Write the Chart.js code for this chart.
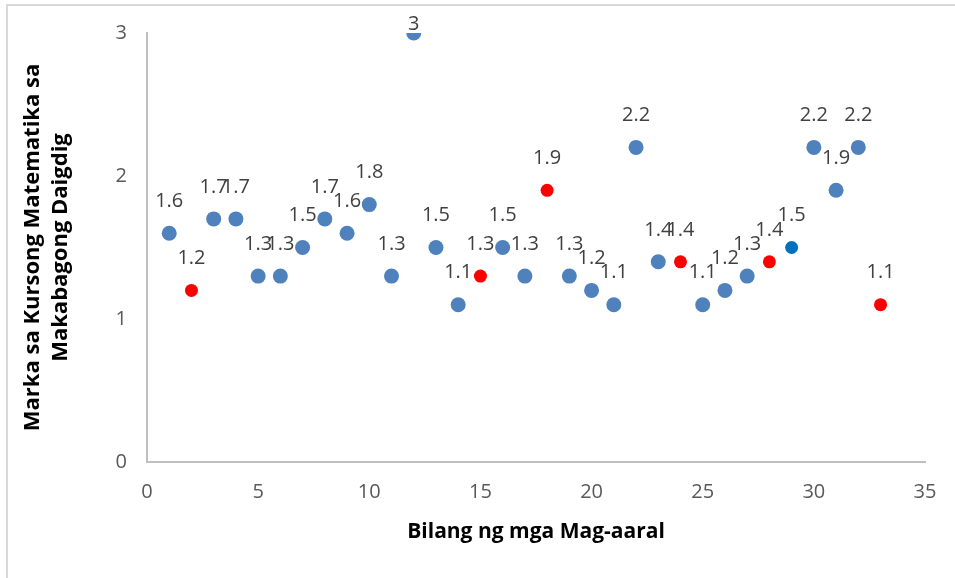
<!DOCTYPE html>
<html>
<head>
<meta charset="utf-8">
<script src="https://cdn.jsdelivr.net/npm/chart.js@4"></script>
<style>
  html, body { margin: 0; padding: 0; background: #fff; }
  #wrap { width: 955px; height: 578px; position: relative; }
</style>
</head>
<body>
<div id="wrap"><canvas id="myChart" width="955" height="578"></canvas></div>
<script>
// student number vs. grade
const students = [1, 2, 3, 4, 5, 6, 7, 8, 9, 10, 11, 12, 13, 14, 15, 16, 17,
  18, 19, 20, 21, 22, 23, 24, 25, 26, 27, 28, 29, 30, 31, 32, 33];
const grades = [1.6, 1.2, 1.7, 1.7, 1.3, 1.3, 1.5, 1.7, 1.6, 1.8, 1.3, 3, 1.5, 1.1, 1.3, 1.5, 1.3,
  1.9, 1.3, 1.2, 1.1, 2.2, 1.4, 1.4, 1.1, 1.2, 1.3, 1.4, 1.5, 2.2, 1.9, 2.2, 1.1];
// which points are highlighted: 'r' red, 'd' dark blue, 'b' normal
const marks = ['b', 'r', 'b', 'b', 'b', 'b', 'b', 'b', 'b', 'b', 'b', 'b', 'b', 'b', 'r', 'b', 'b',
  'r', 'b', 'b', 'b', 'b', 'b', 'r', 'b', 'b', 'b', 'r', 'd', 'b', 'b', 'b', 'r'];
const xTicks = [0, 5, 10, 15, 20, 25, 30, 35];
const yTicks = [0, 1, 2, 3];

const markColor = { b: '#4f81bd', r: '#ff0000', d: '#0070c0' };
const markSize = { b: 7.5, r: 6.5, d: 6.5 };

const points = students.map((s, i) => ({ x: s, y: grades[i] }));

const frame = {
  id: 'frame',
  beforeDraw(chart) {
    const ctx = chart.ctx;
    ctx.save();
    ctx.strokeStyle = '#d9d9d9';
    ctx.lineWidth = 2;
    ctx.beginPath();
    ctx.moveTo(7, 578);
    ctx.lineTo(7, 5);
    ctx.lineTo(955, 5);
    ctx.stroke();
    ctx.restore();
  }
};

const valueLabels = {
  id: 'valueLabels',
  afterDatasetsDraw(chart) {
    const ctx = chart.ctx;
    const meta = chart.getDatasetMeta(0);
    ctx.save();
    ctx.font = '20px "Open Sans"';
    ctx.fillStyle = '#404040';
    ctx.textAlign = 'center';
    ctx.textBaseline = 'middle';
    meta.data.forEach((el, i) => {
      ctx.fillText(String(grades[i]), el.x, Math.max(el.y - 32, 24));
    });
    ctx.restore();
  }
};

const config = {
  type: 'scatter',
  data: {
    datasets: [{
      data: points,
      backgroundColor: marks.map(m => markColor[m]),
      borderWidth: 0,
      pointRadius: marks.map(m => markSize[m]),
      pointHoverRadius: marks.map(m => markSize[m])
    }]
  },
  options: {
    responsive: false,
    animation: false,
    layout: { padding: { left: 0, right: 30, top: 33, bottom: 0 } },
    plugins: { legend: { display: false }, tooltip: { enabled: false } },
    scales: {
      x: {
        type: 'linear',
        min: 0,
        max: 35,
        afterBuildTicks: (scale) => { scale.ticks = xTicks.map(v => ({ value: v })); },
        grid: { display: false, drawTicks: false },
        border: { display: true, color: '#bfbfbf', width: 2 },
        ticks: { color: '#595959', font: { family: 'Open Sans', size: 20 }, padding: 18, maxRotation: 0 },
        title: {
          display: true,
          text: 'Bilang ng mga Mag-aaral',
          color: '#000',
          font: { family: 'Open Sans', size: 21, weight: 'bold', lineHeight: 1.2 },
          padding: { top: 0, bottom: 33 }
        },
        afterFit: (scale) => { scale.height = 116; }
      },
      y: {
        min: 0,
        max: 3,
        afterBuildTicks: (scale) => { scale.ticks = yTicks.map(v => ({ value: v })); },
        grid: { display: false, drawTicks: false },
        border: { display: true, color: '#bfbfbf', width: 2 },
        ticks: { color: '#595959', font: { family: 'Open Sans', size: 20 }, padding: 20 },
        title: {
          display: true,
          text: ['Marka sa Kursong Matematika sa', 'Makabagong Daigdig'],
          color: '#000',
          font: { family: 'Open Sans', size: 22, weight: 'bold', lineHeight: 1.27 },
          padding: { top: 19 }
        },
        afterFit: (scale) => { scale.width = 147; }
      }
    }
  },
  plugins: [frame, valueLabels]
};

const myChart = new Chart(document.getElementById('myChart'), config);
</script>
</body>
</html>
